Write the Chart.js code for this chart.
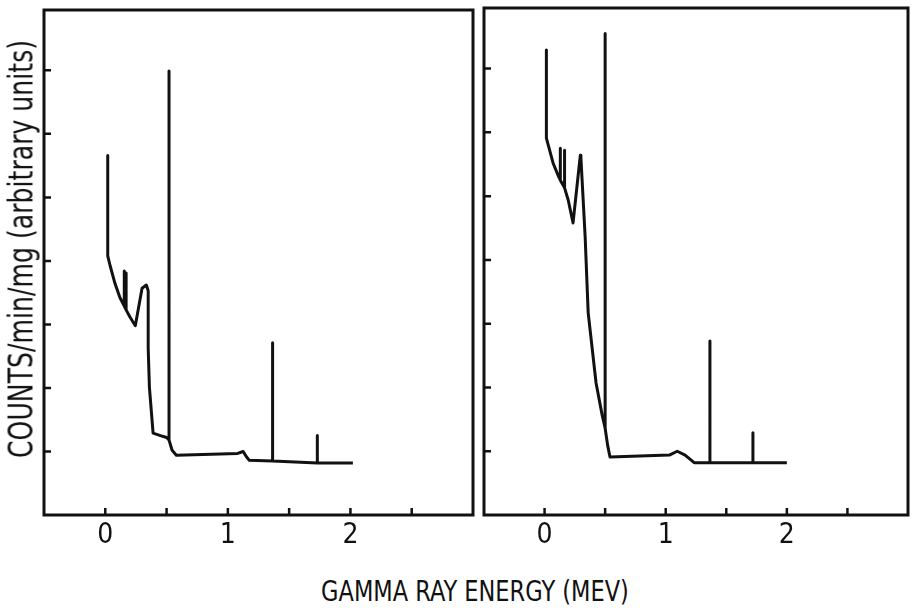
<!DOCTYPE html>
<html>
<head>
<meta charset="utf-8">
<script src="https://cdn.jsdelivr.net/npm/chart.js@4/dist/chart.umd.min.js"></script>
<style>
  html, body { margin: 0; padding: 0; background: #fff; }
  body { width: 912px; height: 611px; position: relative; overflow: hidden; }
  .panel { position: absolute; top: 0; }
  .title {
    position: absolute; white-space: nowrap; color: #111; line-height: 1;
    font-family: "Liberation Sans Narrow", "Arial Narrow", "DejaVu Sans Condensed", "Liberation Sans", sans-serif;
  }
  #xTitle { left: 475px; top: 591px; font-size: 29px; }
  #yTitle { left: 21px; top: 249px; font-size: 33px; }
</style>
</head>
<body>
<div class="panel" style="left:0;width:478px;height:560px"><canvas id="leftChart" width="478" height="560"></canvas></div>
<div class="panel" style="left:478px;width:434px;height:560px"><canvas id="rightChart" width="434" height="560"></canvas></div>
<div class="title" id="yTitle">COUNTS/min/mg (arbitrary units)</div>
<div class="title" id="xTitle">GAMMA RAY ENERGY (MEV)</div>

<script>
// **************************
//    DATA
// **************************
const leftEnergy = [0.02, 0.02, 0.04, 0.08, 0.12, 0.155, 0.155, 0.155, 0.17, 0.17, 0.17, 0.20, 0.245,
    0.30, 0.335, 0.35, 0.35, 0.36, 0.39, 0.45, 0.50, 0.52, 0.52, 0.52, 0.545, 0.58,
    1.08, 1.125, 1.15, 1.175, 1.365, 1.365, 1.365, 1.73, 1.73, 1.73, 2.02];
const leftCounts = [5.66, 4.08, 3.92, 3.64, 3.42, 3.29, 3.84, 3.29, 3.23, 3.81, 3.23, 3.12, 2.98,
    3.57, 3.62, 3.53, 2.63, 2.01, 1.29, 1.25, 1.22, 1.18, 6.99, 1.18, 1.02, 0.94,
    0.97, 1.00, 0.92, 0.86, 0.85, 2.71, 0.85, 0.82, 1.25, 0.82, 0.82];

const rightEnergy = [0.015, 0.015, 0.07, 0.115, 0.13, 0.13, 0.13, 0.165, 0.165, 0.165, 0.195, 0.235,
    0.295, 0.30, 0.335, 0.36, 0.425, 0.475, 0.50, 0.50, 0.50, 0.52, 0.54,
    1.03, 1.095, 1.16, 1.235, 1.365, 1.365, 1.365, 1.72, 1.72, 1.72, 2.0];
const rightCounts = [7.29, 5.91, 5.52, 5.31, 5.25, 5.75, 5.25, 5.13, 5.72, 5.13, 4.94, 4.58,
    5.64, 5.60, 4.36, 3.17, 2.07, 1.57, 1.36, 7.55, 1.36, 1.10, 0.91,
    0.94, 1.00, 0.94, 0.82, 0.82, 2.73, 0.82, 0.82, 1.29, 0.82, 0.82];

const xLabeled = [0, 1, 2];

// **************************
//    FRAME + INWARD TICKS
// **************************
const framePlugin = {
    id: "frame",
    afterDraw(chart) {
        const { ctx, chartArea: a, scales: { x, y } } = chart;
        ctx.save();
        ctx.strokeStyle = "#111";
        ctx.lineWidth = 3;
        ctx.strokeRect(a.left, a.top, a.right - a.left, a.bottom - a.top);
        ctx.lineWidth = 2.5;
        ctx.beginPath();
        y.ticks.forEach(t => {
            if (t.value <= y.min || t.value >= y.max) return;
            const py = y.getPixelForValue(t.value);
            ctx.moveTo(a.left, py);
            ctx.lineTo(a.left + 7, py);
        });
        x.ticks.forEach(t => {
            if (t.value <= x.min || t.value >= x.max) return;
            const px = x.getPixelForValue(t.value);
            ctx.moveTo(px, a.bottom);
            ctx.lineTo(px, a.bottom - 7);
        });
        ctx.stroke();
        ctx.restore();
    }
};

const fontFamily = '"Liberation Sans Narrow", "Arial Narrow", "DejaVu Sans Condensed", "Liberation Sans", sans-serif';

function makeChart(id, energy, counts, yWidth, pad) {
    return new Chart(document.getElementById(id), {
        type: "line",
        data: {
            datasets: [{
                data: energy.map((e, i) => ({ x: e, y: counts[i] })),
                borderColor: "#111",
                borderWidth: 3,
                pointRadius: 0,
                tension: 0,
                fill: false,
                borderJoinStyle: "round"
            }]
        },
        options: {
            responsive: false,
            animation: false,
            events: [],
            layout: { padding: pad },
            plugins: { legend: { display: false }, tooltip: { enabled: false } },
            scales: {
                x: {
                    type: "linear",
                    min: -0.5,
                    max: 3,
                    grid: { display: false, drawTicks: false },
                    border: { display: false },
                    ticks: {
                        stepSize: 0.5,
                        autoSkip: false,
                        maxRotation: 0,
                        padding: 4,
                        color: "#111",
                        font: { family: fontFamily, size: 28 },
                        callback: v => xLabeled.includes(v) ? String(v) : ""
                    },
                    afterFit: s => { s.height = 45; }
                },
                y: {
                    min: 0,
                    max: 7.95,
                    grid: { display: false, drawTicks: false },
                    border: { display: false },
                    ticks: { stepSize: 1, display: false },
                    afterFit: s => { s.width = yWidth; }
                }
            }
        },
        plugins: [framePlugin]
    });
}

makeChart("leftChart", leftEnergy, leftCounts, 44, { top: 10, right: 5, left: 0, bottom: 0 });
makeChart("rightChart", rightEnergy, rightCounts, 6, { top: 8, right: 2, left: 0, bottom: 0 });

// stretch the titles to the lengths they have in the figure
function fitTitle(id, target, rotate) {
    const el = document.getElementById(id);
    const s = target / el.offsetWidth;
    el.style.transform = "translate(-50%, -50%)" + (rotate ? " rotate(-90deg)" : "") + " scaleX(" + s + ")";
}
fitTitle("xTitle", 308, false);
fitTitle("yTitle", 418, true);
</script>
</body>
</html>
